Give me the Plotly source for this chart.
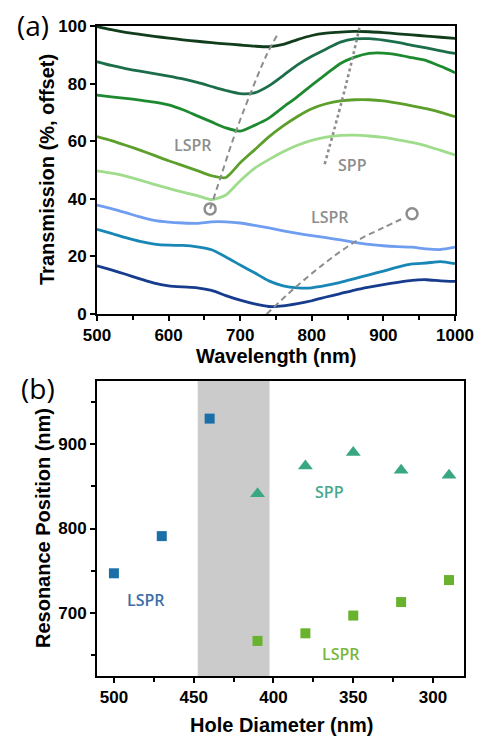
import plotly.graph_objects as go

# ---------------- Panel (a): transmission spectra ----------------
wavelength = [500, 520, 540, 560, 580, 600, 620, 640, 660, 680, 700, 720, 740,
              760, 780, 800, 820, 840, 860, 880, 900, 920, 940, 960, 980, 1000]

t1 = [99.8, 98.7, 97.8, 97.1, 96.4, 95.8, 95.2, 94.7, 94.2, 93.8, 93.4, 93.0, 92.8,
      93.6, 95.3, 96.7, 97.5, 97.9, 98.1, 98.0, 97.7, 97.3, 96.9, 96.5, 96.1, 95.7]
t2 = [87.6, 86.3, 85.2, 84.3, 83.5, 82.6, 81.6, 80.4, 79.0, 77.6, 76.5, 76.8, 79.2,
      82.8, 86.5, 89.5, 92.0, 94.4, 95.5, 95.6, 95.1, 94.3, 93.3, 92.4, 91.4, 90.5]
t3 = [76.0, 75.4, 74.9, 74.3, 73.6, 72.6, 70.9, 68.8, 66.7, 64.6, 63.5, 65.5, 68.0,
      71.8, 75.5, 79.5, 83.3, 87.0, 89.2, 90.5, 90.6, 90.0, 89.0, 88.0, 86.0, 83.8]
t4 = [61.6, 60.2, 58.6, 56.9, 55.1, 53.2, 51.5, 49.8, 48.0, 47.4, 52.5, 57.0, 61.5,
      65.3, 68.6, 71.3, 73.0, 74.0, 74.4, 74.4, 74.0, 73.2, 72.3, 71.3, 70.0, 68.5]
t5 = [49.7, 48.9, 47.9, 46.5, 45.0, 43.6, 42.3, 41.1, 39.7, 41.3, 46.3, 50.6, 53.6,
      56.3, 58.6, 60.3, 61.4, 62.0, 62.1, 61.8, 61.3, 60.5, 59.6, 58.4, 56.8, 55.2]
t6 = [37.8, 36.6, 35.2, 33.7, 32.5, 31.9, 31.6, 31.5, 32.0, 32.0, 31.6, 30.8, 29.9,
      28.9, 28.0, 27.2, 26.5, 25.7, 24.9, 24.2, 23.7, 23.4, 23.2, 22.6, 22.4, 23.2]
t7 = [29.4, 28.0, 26.5, 25.2, 24.3, 23.9, 23.8, 23.3, 22.3, 19.8, 17.0, 14.3, 11.5,
      9.8, 9.1, 9.1, 9.9, 11.0, 12.3, 13.6, 14.9, 16.3, 17.4, 17.7, 18.2, 17.5]
t8 = [16.7, 15.3, 13.8, 12.2, 10.7, 9.8, 9.4, 9.1, 8.2, 6.4, 4.8, 3.5, 2.6,
      2.8, 3.6, 4.6, 5.9, 7.1, 8.3, 9.3, 10.2, 11.0, 11.7, 11.9, 11.5, 11.3]

spectra = [t1, t2, t3, t4, t5, t6, t7, t8]
spectra_colors = ["#123d1c", "#1c6d4a", "#1d8a2f", "#5c9f2b",
                  "#9fdc8b", "#6f9ef0", "#1887b5", "#173c8e"]

# guide lines in panel (a)
lspr1_x = [658, 672, 692, 715, 737, 752]
lspr1_y = [36.5, 47, 62, 77, 90, 97]
spp_x = [818, 842, 856, 867]
spp_y = [52, 74, 88, 100]
lspr2_x = [737, 776, 820, 860, 900, 930]
lspr2_y = [0, 9, 18, 25, 30, 33.5]
circle_x = [658, 940]
circle_y = [36.5, 34.8]

# ---------------- Panel (b): resonance positions ----------------
lspr_blue_d = [500, 470, 440]
lspr_blue_pos = [747, 791, 930]
lspr_green_d = [410, 380, 350, 320, 290]
lspr_green_pos = [667, 676, 697, 713, 739]
spp_d = [410, 380, 350, 320, 290]
spp_pos = [841, 874, 890, 869, 863]
gap_range = [402.5, 447.5]

W, H = 485, 750
def px(x):
    return x / W
def py(y):
    return 1 - y / H

fig = go.Figure()

for vals, col in zip(spectra, spectra_colors):
    fig.add_trace(go.Scatter(x=wavelength, y=vals, mode="lines",
                             line=dict(color=col, width=2.8, shape="spline", smoothing=0.6),
                             xaxis="x", yaxis="y", showlegend=False))

gray = "#8d8d8d"
fig.add_trace(go.Scatter(x=lspr1_x, y=lspr1_y, mode="lines",
                         line=dict(color=gray, width=2, dash="6px,4px", shape="spline"),
                         xaxis="x", yaxis="y", showlegend=False))
fig.add_trace(go.Scatter(x=lspr2_x, y=lspr2_y, mode="lines",
                         line=dict(color=gray, width=2, dash="6px,4px", shape="spline"),
                         xaxis="x", yaxis="y", showlegend=False))
fig.add_trace(go.Scatter(x=spp_x, y=spp_y, mode="lines",
                         line=dict(color=gray, width=2.6, dash="dot", shape="spline"),
                         xaxis="x", yaxis="y", showlegend=False))
fig.add_trace(go.Scatter(x=circle_x, y=circle_y, mode="markers",
                         marker=dict(symbol="circle-open", size=11, color=gray,
                                     line=dict(width=2.5, color=gray)),
                         xaxis="x", yaxis="y", showlegend=False))

fig.add_trace(go.Scatter(x=lspr_blue_d, y=lspr_blue_pos, mode="markers",
                         marker=dict(symbol="square", size=10, color="#1b6fa8"),
                         xaxis="x2", yaxis="y2", showlegend=False))
fig.add_trace(go.Scatter(x=lspr_green_d, y=lspr_green_pos, mode="markers",
                         marker=dict(symbol="square", size=10, color="#69b22e"),
                         xaxis="x2", yaxis="y2", showlegend=False))
fig.add_trace(go.Scatter(x=spp_d, y=spp_pos, mode="markers",
                         marker=dict(symbol="triangle-up", size=13, color="#3aa784"),
                         xaxis="x2", yaxis="y2", showlegend=False))

fig.add_shape(type="rect", xref="x2", yref="y2 domain", x0=gap_range[0], x1=gap_range[1],
              y0=0, y1=1, fillcolor="#cbcbcb", line=dict(width=0), layer="below")

tickfont = dict(family="Arial, Liberation Sans", size=17, color="black", weight="bold")
axis_common = dict(showline=True, linecolor="black", linewidth=2, mirror=True,
                   ticks="outside", ticklen=5, tickwidth=1.5, tickcolor="black",
                   showgrid=False, zeroline=False, tickfont=tickfont, automargin=False)

fig.update_layout(
    width=W, height=H, margin=dict(l=0, r=0, t=0, b=0, autoexpand=False),
    paper_bgcolor="white", plot_bgcolor="white", showlegend=False,
    xaxis=dict(domain=[px(97), px(455)], anchor="y", range=[500, 1000], dtick=100,
               minor=dict(ticks="outside", dtick=50, ticklen=4, tickcolor="black"),
               **axis_common),
    yaxis=dict(domain=[py(314), py(26)], anchor="x", range=[0, 100], dtick=20,
               **axis_common),
    xaxis2=dict(domain=[px(97), px(464)], anchor="y2", range=[510.6, 280.6], dtick=50,
                minor=dict(ticks="outside", dtick=25, ticklen=4, tickcolor="black"),
                **axis_common),
    yaxis2=dict(domain=[py(676), py(381)], anchor="x2", range=[625.5, 974.5], dtick=100,
                minor=dict(ticks="outside", dtick=50, ticklen=4, tickcolor="black"),
                **axis_common),
)

title_font = dict(family="Arial, Liberation Sans", size=20, color="black", weight="bold")
label_family = "Open Sans, Noto Sans"
annotations = [
    dict(text="Transmission (%, offset)", x=px(47), y=py(170), textangle=-90, font=title_font),
    dict(text="Wavelength (nm)", x=px(276), y=py(356), font=title_font),
    dict(text="Resonance Position (nm)", x=px(43), y=py(528), textangle=-90, font=title_font),
    dict(text="Hole Diameter (nm)", x=px(281), y=py(725), font=title_font),
    dict(text="(a)", x=px(33), y=py(25), font=dict(family=label_family, size=28, color="black")),
    dict(text="(b)", x=px(38), y=py(388), font=dict(family=label_family, size=28, color="black")),
]
for a in annotations:
    fig.add_annotation(xref="paper", yref="paper", showarrow=False,
                       xanchor="center", yanchor="middle", **a)

data_labels = [
    dict(text="LSPR", x=634, y=58.7, xref="x", yref="y", color=gray),
    dict(text="SPP", x=857, y=51.7, xref="x", yref="y", color=gray),
    dict(text="LSPR", x=825, y=33.8, xref="x", yref="y", color=gray),
    dict(text="LSPR", x=480, y=716, xref="x2", yref="y2", color="#3b6ea6"),
    dict(text="SPP", x=365, y=843, xref="x2", yref="y2", color="#46a88c"),
    dict(text="LSPR", x=358, y=651, xref="x2", yref="y2", color="#78b83c"),
]
for d in data_labels:
    fig.add_annotation(text=d["text"], x=d["x"], y=d["y"], xref=d["xref"], yref=d["yref"],
                       showarrow=False, xanchor="center", yanchor="middle",
                       font=dict(family=label_family, size=16, color=d["color"], weight=600))

fig.write_html("out.html", config={"displayModeBar": False},
               post_script="document.body.style.margin='0';document.body.style.overflow='hidden';")
